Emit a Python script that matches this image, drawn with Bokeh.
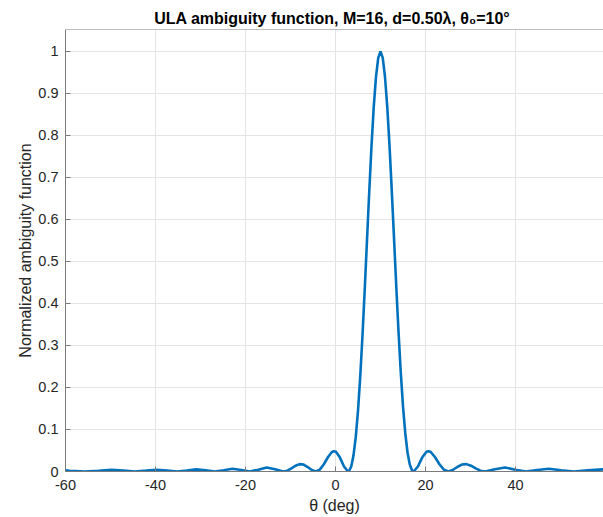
from bokeh.plotting import figure
from bokeh.models import Range1d, FixedTicker, Span, ColumnDataSource
from bokeh.embed import file_html
from bokeh.resources import INLINE

# ---- data ----
theta = [-60.0, -59.049, -55.727, -52.666, -49.806, -47.105, -44.536, -42.075,
         -39.707, -37.417, -35.195, -33.032, -30.921, -28.856, -26.831, -24.841,
         -22.883, -20.953, -19.048, -17.164, -15.299, -13.450, -11.616, -10.704,
         -9.794, -8.887, -7.981, -7.078, -6.177, -5.277, -4.379, -3.482, -2.585,
         -1.689, -0.794, -0.346, 0.102, 0.997, 1.892, 2.789, 3.0, 3.5, 4.0, 4.5,
         5.0, 5.5, 6.0, 6.5, 7.0, 7.5, 8.0, 8.5, 9.0, 9.5, 10.0, 10.5, 11.0,
         11.5, 12.0, 12.5, 13.0, 13.5, 14.0, 14.5, 15.0, 15.5, 16.0, 16.5, 17.0,
         17.376, 18.317, 19.262, 20.214, 20.691, 21.171, 22.134, 23.104, 24.080,
         25.065, 26.058, 27.058, 28.068, 29.088, 30.117, 31.158, 32.210, 33.274,
         35.442, 37.674, 39.971, 42.351, 44.822, 47.407, 50.122, 53.0, 56.089,
         59.449, 60.0]
ambiguity = [0.00277, 0.00196, 0.0, 0.00196, 0.00394, 0.00200, 0.0, 0.00208,
             0.00427, 0.00220, 0.0, 0.00239, 0.00502, 0.00265, 0.0, 0.00303,
             0.00654, 0.00356, 0.0, 0.00433, 0.00971, 0.00550, 0.0, 0.00200,
             0.00739, 0.01372, 0.01758, 0.01649, 0.01068, 0.00348, 0.0, 0.00442,
             0.01721, 0.03389, 0.04636, 0.04844, 0.04687, 0.03308, 0.01192, 0.0,
             0.00093, 0.01187, 0.0379, 0.08166, 0.14439, 0.22591, 0.32357,
             0.43344, 0.54989, 0.66592, 0.77405, 0.86771, 0.93933, 0.9845, 1.0,
             0.98458, 0.93954, 0.86851, 0.77675, 0.66984, 0.55652, 0.44198,
             0.33382, 0.23704, 0.15565, 0.09178, 0.04587, 0.01697, 0.00281, 0.0,
             0.01192, 0.03308, 0.04687, 0.04844, 0.04636, 0.03389, 0.01721,
             0.00442, 0.0, 0.00348, 0.01068, 0.01649, 0.01758, 0.01372, 0.00739,
             0.00200, 0.0, 0.00550, 0.00971, 0.00433, 0.0, 0.00356, 0.00654,
             0.00303, 0.0, 0.00265, 0.00502, 0.00491]

x_ticks = [-60, -40, -20, 0, 20, 40, 60]
x_tick_labels = ["-60", "-40", "-20", "0", "20", "40", "60"]
y_ticks = [0.0, 0.1, 0.2, 0.3, 0.4, 0.5, 0.6, 0.7, 0.8, 0.9, 1.0]
y_tick_labels = ["0", "0.1", "0.2", "0.3", "0.4", "0.5", "0.6", "0.7", "0.8", "0.9", "1"]

title_text = "ULA ambiguity function, M=16, d=0.50\u03bb,  \u03b8\u2080=10\u00b0"
x_label = "\u03b8 (deg)"
y_label = "Normalized ambiguity function"

FONT = "Liberation Sans"
AXIS_COLOR = "#7a7a7a"
TEXT_COLOR = "#262626"
GRID_COLOR = "#e4e4e4"
LINE_COLOR = "#0072BD"

source = ColumnDataSource(data=dict(theta=theta, af=ambiguity))

p = figure(width=603, height=517, output_backend="svg", toolbar_location=None,
           x_range=Range1d(-60, 59.56), y_range=Range1d(0, 1.052),
           min_border_left=65, min_border_right=0, min_border_top=29,
           min_border_bottom=46, title=title_text)
p.outline_line_color = None
p.background_fill_color = "white"
p.border_fill_color = "white"

p.title.text_font = FONT
p.title.text_font_size = "16px"
p.title.text_font_style = "bold"
p.title.text_color = "#000000"
p.title.align = "center"
p.title.standoff = 5

for ax, ticks, labels in ((p.xaxis[0], x_ticks, x_tick_labels), (p.yaxis[0], y_ticks, y_tick_labels)):
    ax.ticker = FixedTicker(ticks=ticks)
    ax.major_label_overrides = {t: l for t, l in zip(ticks, labels)}
    ax.major_tick_in = 5
    ax.major_tick_out = 0
    ax.minor_tick_line_color = None
    ax.axis_line_color = AXIS_COLOR
    ax.major_tick_line_color = AXIS_COLOR
    ax.major_label_text_font = FONT
    ax.major_label_text_font_size = "14.5px"
    ax.major_label_text_color = TEXT_COLOR
    ax.axis_label_text_font = FONT
    ax.axis_label_text_font_size = "16px"
    ax.axis_label_text_font_style = "normal"
    ax.axis_label_text_color = TEXT_COLOR

p.xaxis.axis_label = x_label
p.yaxis.axis_label = y_label
p.xaxis.major_label_standoff = 8
p.xaxis.axis_label_standoff = 4
p.yaxis.major_label_standoff = 7
p.yaxis.axis_label_standoff = 1

# top box edge (MATLAB "box on")
p.add_layout(Span(location=1.052, dimension="width", line_color=AXIS_COLOR, line_width=1))

p.xgrid.ticker = FixedTicker(ticks=x_ticks)
p.ygrid.ticker = FixedTicker(ticks=y_ticks)
p.xgrid.grid_line_color = GRID_COLOR
p.ygrid.grid_line_color = GRID_COLOR

p.line("theta", "af", source=source, line_color=LINE_COLOR, line_width=2.6)

open("out.html", "w").write(file_html(p, INLINE))
